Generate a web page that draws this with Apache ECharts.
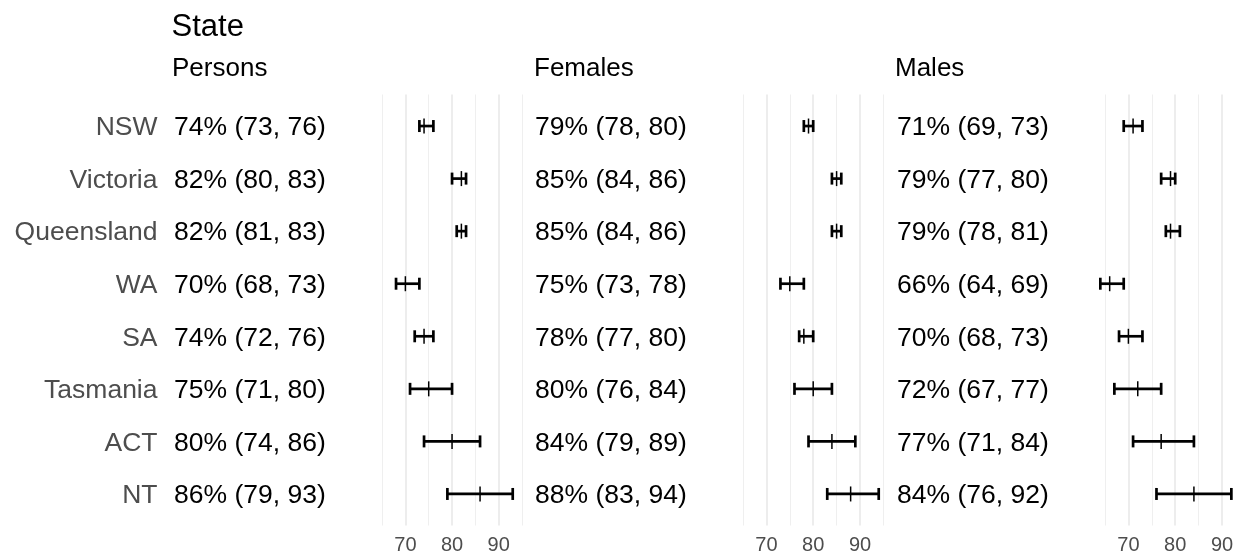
<!DOCTYPE html>
<html>
<head>
<meta charset="utf-8">
<script src="https://cdn.jsdelivr.net/npm/echarts@6/dist/echarts.min.js"></script>
<style>html,body{margin:0;padding:0;background:#fff}#c{width:1237px;height:556px}</style>
</head>
<body>
<div id="c"></div>
<script>
const states = ['NSW','Victoria','Queensland','WA','SA','Tasmania','ACT','NT'];
const panels = ['Persons','Females','Males'];
const personsEst = [74,82,82,70,74,75,80,86];
const personsLo  = [73,80,81,68,72,71,74,79];
const personsHi  = [76,83,83,73,76,80,86,93];
const femalesEst = [79,85,85,75,78,80,84,88];
const femalesLo  = [78,84,84,73,77,76,79,83];
const femalesHi  = [80,86,86,78,80,84,89,94];
const malesEst   = [71,79,79,66,70,72,77,84];
const malesLo    = [69,77,78,64,68,67,71,76];
const malesHi    = [73,80,81,69,73,77,84,92];
const tickLabels = [70,80,90];

const FONT = "'Liberation Sans', Arial, sans-serif";
const est = [personsEst, femalesEst, malesEst];
const lo = [personsLo, femalesLo, malesLo];
const hi = [personsHi, femalesHi, malesHi];

// layout
const plotTop = 94.5, plotH = 431;
const unit = plotH / 8.2;
const textTop = plotTop + 0.6 * unit - unit / 2 + 2, textH = unit * 8;
const plotLeft = [358.7, 719.6, 1081.6];
const plotW = [186.7, 187.2, 187.2];
const textLeft = [174, 535, 897];
const headLeft = [172, 534, 895];

const grid = [], xAxis = [], yAxis = [], series = [], title = [];
title.push({text:'State', left:171.5, top:12, padding:0, textStyle:{fontFamily:FONT, fontSize:31, fontWeight:'normal', color:'#000'}});

// state names grid
grid.push({left:157.5, top:textTop, width:5, height:textH, outerBoundsMode:'none'});
xAxis.push({gridIndex:0, type:'value', show:false});
yAxis.push({gridIndex:0, type:'category', data:states, inverse:true,
  axisLine:{show:false}, axisTick:{show:false}, splitLine:{show:false},
  axisLabel:{margin:0, color:'#4d4d4d', fontSize:26.5, fontFamily:FONT}});

for (let p = 0; p < 3; p++) {
  title.push({text:panels[p], left:headLeft[p], top:56, padding:0, textStyle:{fontFamily:FONT, fontSize:26, fontWeight:'normal', color:'#000'}});
  // text grid
  const tg = grid.length;
  grid.push({left:textLeft[p], top:textTop, width:5, height:textH, outerBoundsMode:'none'});
  xAxis.push({gridIndex:tg, type:'value', show:false});
  const labels = states.map((s,i) => est[p][i] + '% (' + lo[p][i] + ', ' + hi[p][i] + ')');
  yAxis.push({gridIndex:tg, type:'category', data:labels, inverse:true,
    axisLine:{show:false}, axisTick:{show:false}, splitLine:{show:false},
    axisLabel:{margin:0, align:'left', color:'#000', fontSize:26.5, fontFamily:FONT}});
  // plot grid
  const pg = grid.length;
  grid.push({left:plotLeft[p], top:plotTop, width:plotW[p], height:plotH, outerBoundsMode:'none'});
  xAxis.push({gridIndex:pg, type:'value', min:60, max:100, interval:10,
    axisLine:{show:false}, axisTick:{show:false},
    axisLabel:{margin:10, color:'#4d4d4d', fontSize:20, fontFamily:FONT,
      formatter: v => tickLabels.indexOf(v) >= 0 ? String(v) : ''},
    splitLine:{show:true, showMinLine:false, showMaxLine:false, lineStyle:{color:'#ebebeb', width:1.8}},
    minorTick:{show:false, splitNumber:2},
    minorSplitLine:{show:true, lineStyle:{color:'#efefef', width:1}}});
  yAxis.push({gridIndex:pg, type:'value', min:-0.6, max:7.6, inverse:true, show:false});
  const data = states.map((s,i) => [lo[p][i], hi[p][i], est[p][i], i]);
  series.push({
    type:'custom', xAxisIndex:pg, yAxisIndex:pg, data:data, clip:false,
    encode:{x:[0,1,2], y:3},
    renderItem: function(params, api) {
      const yi = api.value(3);
      const a = api.coord([api.value(0), yi]);
      const b = api.coord([api.value(1), yi]);
      const m = api.coord([api.value(2), yi]);
      const y = a[1];
      const st = {stroke:'#000', lineWidth:2.7};
      return {type:'group', children:[
        {type:'line', shape:{x1:a[0], y1:y, x2:b[0], y2:y}, style:st},
        {type:'line', shape:{x1:a[0], y1:y-6, x2:a[0], y2:y+6}, style:st},
        {type:'line', shape:{x1:b[0], y1:y-6, x2:b[0], y2:y+6}, style:st},
        {type:'line', shape:{x1:m[0], y1:y-7.5, x2:m[0], y2:y+7.5}, style:{stroke:'#000', lineWidth:1.5}}
      ]};
    }
  });
}

const chart = echarts.init(document.getElementById('c'), null, {renderer:'canvas'});
chart.setOption({animation:false, backgroundColor:'#fff', title, grid, xAxis, yAxis, series});
</script>
</body>
</html>
